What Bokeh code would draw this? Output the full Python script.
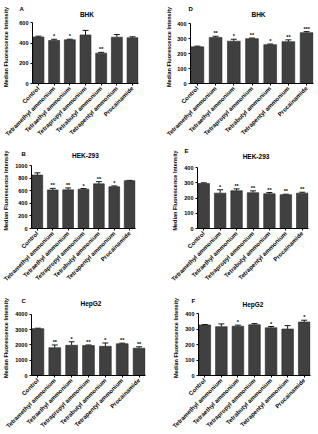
import numpy as np
from bokeh.plotting import figure
from bokeh.layouts import column, row
from bokeh.models import (Whisker, ColumnDataSource, FixedTicker, Range1d,
                          TeeHead, Title, Label)
from bokeh.embed import file_html
from bokeh.resources import INLINE
from bokeh.core.properties import value

categories = ["Control", "Tetramethyl ammonium", "Tetraethyl ammonium",
              "Tetrapropyl ammonium", "Tetrabutyl ammonium",
              "Tetrapentyl ammonium", "Procainamide"]

# Panel A - BHK
a_vals = [460, 425, 432, 480, 300, 458, 452]
a_errs = [8, 12, 6, 45, 8, 26, 10]
a_sig = ["", "*", "*", "", "**", "", ""]
a_ticks = [0, 200, 400, 600]

# Panel B - HEK-293
b_vals = [850, 613, 615, 625, 710, 665, 760]
b_errs = [35, 25, 30, 10, 35, 12, 5]
b_sig = ["", "**", "**", "*", "**", "*", ""]
b_ticks = [0, 200, 400, 600, 800, 1000]

# Panel C - HepG2
c_vals = [3070, 1820, 1980, 1960, 1910, 2080, 1790]
c_errs = [30, 180, 230, 40, 220, 40, 90]
c_sig = ["", "**", "*", "**", "*", "**", "**"]
c_ticks = [0, 1000, 2000, 3000, 4000]

# Panel D - BHK
d_vals = [245, 308, 283, 300, 260, 280, 340]
d_errs = [5, 8, 13, 4, 4, 12, 7]
d_sig = ["", "**", "*", "**", "*", "**", "***"]
d_ticks = [0, 100, 200, 300, 400]

# Panel E - HEK-293
e_vals = [295, 232, 248, 235, 228, 222, 232]
e_errs = [5, 22, 12, 12, 8, 3, 6]
e_sig = ["", "*", "**", "**", "**", "**", "**"]
e_ticks = [0, 100, 200, 300, 400]

# Panel F - HepG2
f_vals = [328, 317, 320, 330, 310, 302, 347]
f_errs = [3, 18, 7, 7, 8, 22, 12]
f_sig = ["", "", "*", "", "*", "", "*"]
f_ticks = [0, 100, 200, 300, 400]

FONT = "Liberation Sans"
BAR = "#404040"
X0, X1 = -0.38, 6.38


def panel(letter, title, vals, errs, sig, ticks, w, h,
          left, right, ytop, ybot, new_top, lab_std,
          letter_dx, letter_standoff, title_cx, title_cy):
    """left/right/ytop/ybot: pixel edges of the value axis area inside figure;
    new_top: pixel top of the (extended) frame; title_cx/cy: title centre px."""
    ymax = ticks[-1]
    ppu = (ybot - ytop) / ymax
    y_end = ymax + (ytop - new_top) / ppu
    fw = right - left
    p = figure(width=w, height=h, output_backend="svg", toolbar_location=None,
               x_range=Range1d(X0, X1), y_range=Range1d(0, y_end),
               min_border_left=left, min_border_top=new_top,
               min_border_right=w - right, min_border_bottom=h - ybot)
    p.outline_line_color = None
    p.grid.visible = False
    p.background_fill_color = "white"
    p.border_fill_color = "white"
    xs = list(range(len(categories)))
    src = ColumnDataSource(dict(x=xs, top=vals, err=errs,
                                upper=[v + e for v, e in zip(vals, errs)],
                                sig=sig))
    p.vbar(x="x", top="top", width=0.7, source=src, fill_color=BAR,
           line_color="#262626", line_width=0.6)
    wk = Whisker(base="x", upper="upper", lower="top", source=src,
                 line_color="black", line_width=0.9, lower_head=None,
                 upper_head=TeeHead(size=6, line_color="black", line_width=0.9))
    p.add_layout(wk)
    p.text(x="x", y="upper", text="sig", source=src, text_align="center",
           text_baseline="bottom", text_font=value(FONT), text_font_size="5.5px",
           text_font_style="bold", text_color="black", y_offset=0)

    for ax in (p.xaxis, p.yaxis):
        ax.axis_line_color = "black"
        ax.axis_line_width = 1
        ax.major_tick_line_color = "black"
        ax.major_tick_in = 0
        ax.major_tick_out = 2
        ax.minor_tick_line_color = None
        ax.major_label_text_font = FONT
        ax.major_label_text_font_style = "bold"
        ax.major_label_text_font_size = "5.5px"
        ax.major_label_text_color = "black"
        ax.major_label_standoff = 2
    p.xaxis.ticker = FixedTicker(ticks=xs)
    p.xaxis.major_label_overrides = {i: c for i, c in enumerate(categories)}
    p.xaxis.major_label_orientation = np.pi / 4
    p.xaxis.major_label_text_font_size = "6px"
    p.yaxis.ticker = FixedTicker(ticks=ticks)
    p.yaxis.bounds = (0, ymax)
    p.yaxis.axis_label = "Median Fluorescence Intensity"
    p.yaxis.axis_label_text_font = FONT
    p.yaxis.axis_label_text_font_style = "bold"
    p.yaxis.axis_label_text_font_size = "5.5px"
    p.yaxis.axis_label_text_color = "black"
    p.yaxis.axis_label_standoff = lab_std

    # panel letter above the frame
    p.title = Title(text=letter, align="left", offset=letter_dx,
                    text_font=FONT, text_font_style="bold",
                    text_font_size="6px", text_color="black",
                    standoff=letter_standoff)
    # cell-line title inside the extended frame
    tx = X0 + (title_cx - left) / fw * (X1 - X0)
    ty = ymax + (ytop - title_cy) / ppu
    p.add_layout(Label(x=tx, y=ty, text=title, text_align="center",
                       text_baseline="middle", text_font=FONT,
                       text_font_style="bold", text_font_size="6.5px",
                       text_color="black"))
    return p


pa = panel("A", "BHK", a_vals, a_errs, a_sig, a_ticks, 159, 142,
           28, 138, 21, 90, 7, 7, letter_dx=-13, letter_standoff=-2.8,
           title_cx=84.5, title_cy=12)
pd_ = panel("D", "BHK", d_vals, d_errs, d_sig, d_ticks, 159, 142,
            31, 154, 25, 93, 10, 2, letter_dx=-2, letter_standoff=-2.8,
            title_cx=99, title_cy=15)
pb = panel("B", "HEK-293", b_vals, b_errs, b_sig, b_ticks, 159, 145,
           28, 135, 21, 93, 6, 3, letter_dx=-10, letter_standoff=-8,
           title_cx=83.5, title_cy=10)
pe = panel("E", "HEK-293", e_vals, e_errs, e_sig, e_ticks, 159, 145,
           38, 149, 27, 96, 10, 3, letter_dx=-13, letter_standoff=-2.8,
           title_cx=96.5, title_cy=15)
pc = panel("C", "HepG2", c_vals, c_errs, c_sig, c_ticks, 159, 147,
           30, 145, 26, 96, 10, 3, letter_dx=-10, letter_standoff=-6.8,
           title_cx=90, title_cy=14)
pf = panel("F", "HepG2", f_vals, f_errs, f_sig, f_ticks, 159, 147,
           39, 151, 28, 97, 13, 3, letter_dx=-7, letter_standoff=-6.8,
           title_cx=93.5, title_cy=17)

layout = column(row(pa, pd_), row(pb, pe), row(pc, pf))
open("out.html", "w").write(file_html(layout, INLINE))
